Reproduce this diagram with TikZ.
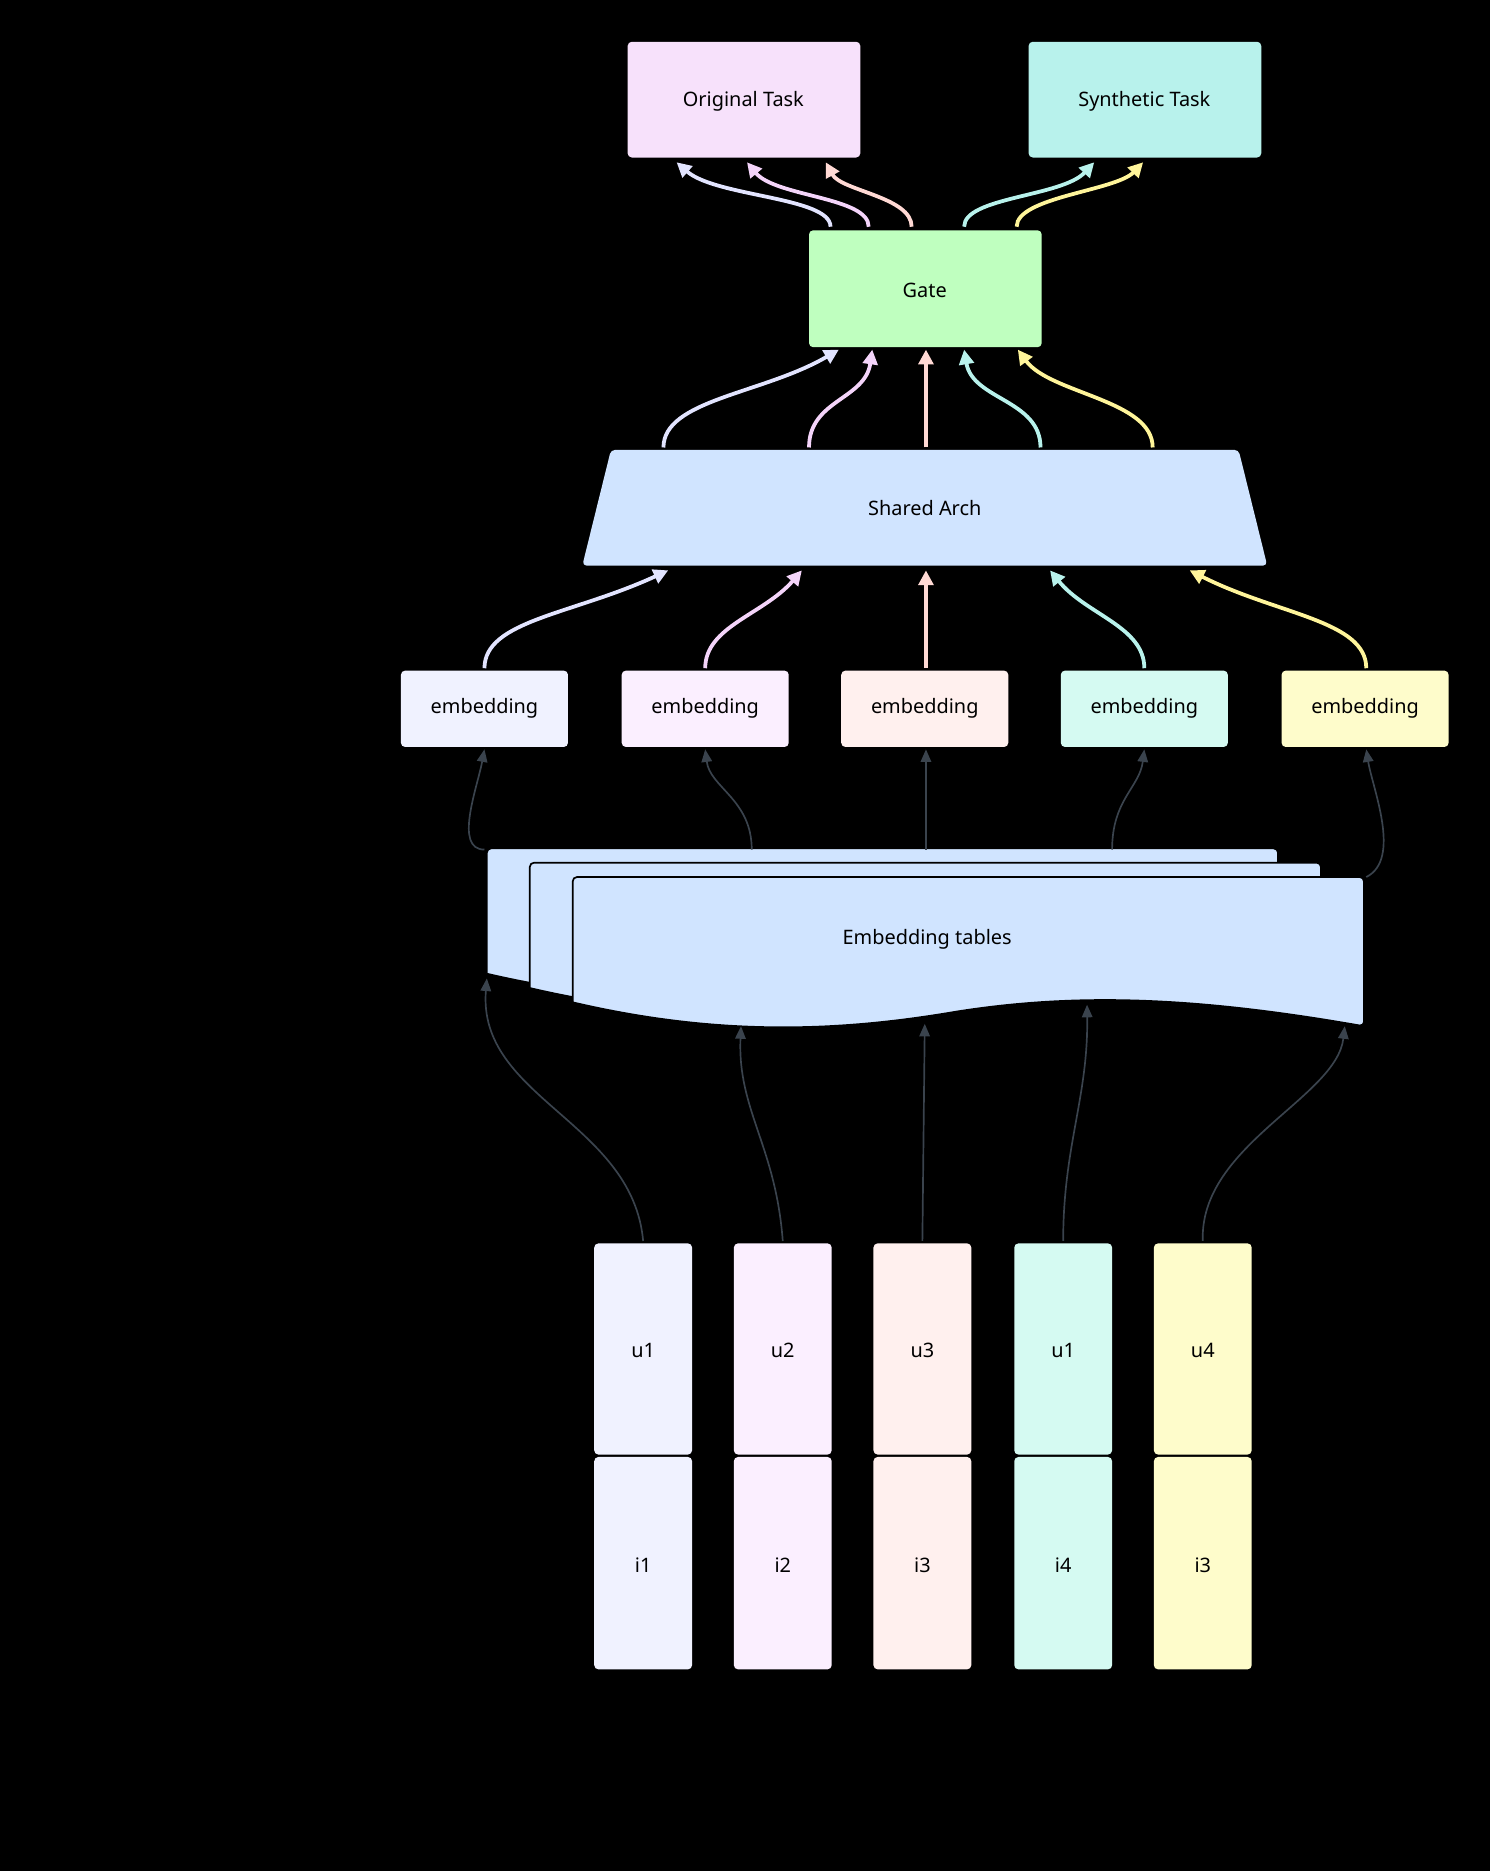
\documentclass[tikz,border=0pt]{standalone}
\usepackage{fontspec}
\setmainfont{Noto Sans}
\usetikzlibrary{arrows.meta}
\definecolor{cLav}{HTML}{E2E4FF}
\definecolor{cPink}{HTML}{F4D4FA}
\definecolor{cSal}{HTML}{FFD9D4}
\definecolor{cCyan}{HTML}{B8F2EC}
\definecolor{cYel}{HTML}{FFF59A}
\definecolor{fLav}{HTML}{F0F2FF}
\definecolor{fPink}{HTML}{FBEFFF}
\definecolor{fSal}{HTML}{FFF0EE}
\definecolor{fCyan}{HTML}{D5FAF2}
\definecolor{fYel}{HTML}{FEFCCB}
\definecolor{arch}{HTML}{D0E4FF}
\definecolor{wire}{HTML}{3A434D}
\begin{document}
\begin{tikzpicture}[x=0.02cm,y=-0.02cm,
  lbl/.style={font=\fontsize{9.5}{11}\selectfont\bfseries},
  box/.style={rounded corners=2pt,draw=none},
  thick arrow/.style={line width=1.8pt,-{Triangle[length=7pt,width=7pt]}},
  thin arrow/.style={line width=0.8pt,draw=wire,-{Triangle[length=6pt,width=5pt]}}]
\fill[black] (0,0) rectangle (1249,1568);
% tasks and gate
\filldraw[box,fill=cPink!70] (526,35) rectangle (721,132);
\node[lbl] (orig) at (623,85) {Original Task};
\filldraw[box,fill=cCyan] (862,35) rectangle (1057,132);
\node[lbl] (synth) at (959,85) {Synthetic Task};
\filldraw[box,fill=green!25!white] (678,193) rectangle (873,291);
\node[lbl] (gate) at (775,243) {Gate};
% shared arch
\fill[arch,rounded corners=2pt] (512,377) -- (1038,377) -- (1062,474) -- (488,474) -- cycle;
\node[lbl] (arch) at (775,426) {Shared Arch};
% embeddings
\foreach \x/\c/\n in {406/fLav/1,591/fPink/2,775/fSal/3,959/fCyan/4,1144/fYel/5}{
  \filldraw[box,fill=\c] (\x-70,562) rectangle (\x+70,626);
  \node[lbl] (emb\n) at (\x,594) {embedding};
}
% embedding tables
\foreach \s in {72,36,0}{
  \filldraw[fill=arch,draw=black,line width=0.8pt,rounded corners=2pt]
    (480-\s,840-\s/3) -- (480-\s,735-\s/3) -- (1143-\s,735-\s/3) -- (1143-\s,860-\s/3)
    [sharp corners] .. controls (1000-\s,835-\s/3) and (900-\s,832-\s/3) .. (800-\s,848-\s/3)
    .. controls (700-\s,865-\s/3) and (600-\s,868-\s/3) .. (480-\s,840-\s/3);
}
\node[lbl] (tables) at (777,787) {Embedding tables};
% inputs
\foreach \x/\c/\u/\i/\n in {539/fLav/u1/i1/1,656/fPink/u2/i2/2,773/fSal/u3/i3/3,891/fCyan/u1/i4/4,1008/fYel/u4/i3/5}{
  \filldraw[box,fill=\c] (\x-41,1042) rectangle (\x+41,1219);
  \node[lbl] (u\n) at (\x,1132) {\u};
  \filldraw[box,fill=\c] (\x-41,1221) rectangle (\x+41,1399);
  \node[lbl] (i\n) at (\x,1312) {\i};
}
% wires
\draw[thin arrow] (539,1040) .. controls (530,940) and (400,920) .. (408,820);
\draw[thin arrow] (656,1040) .. controls (650,960) and (618,930) .. (621,860);
\draw[thin arrow] (773,1040) -- (775,858);
\draw[thin arrow] (891,1040) .. controls (891,960) and (912,920) .. (911,842);
\draw[thin arrow] (1008,1040) .. controls (1005,960) and (1120,920) .. (1127,860);
\draw[thin arrow] (406,712) .. controls (380,712) and (400,660) .. (406,628);
\draw[thin arrow] (630,712) .. controls (630,670) and (595,660) .. (591,628);
\draw[thin arrow] (776,712) -- (776,628);
\draw[thin arrow] (932,712) .. controls (932,670) and (955,660) .. (959,628);
\draw[thin arrow] (1145,735) .. controls (1175,720) and (1150,660) .. (1145,628);
% embeddings to arch
\draw[thick arrow,cLav] (406,560) .. controls (406,520) and (480,515) .. (560,478);
\draw[thick arrow,cPink] (591,560) .. controls (591,525) and (640,515) .. (672,478);
\draw[thick arrow,cSal] (776,560) -- (776,478);
\draw[thick arrow,cCyan] (959,560) .. controls (959,525) and (910,515) .. (880,478);
\draw[thick arrow,cYel] (1145,560) .. controls (1145,520) and (1070,515) .. (997,478);
% arch to gate
\draw[thick arrow,cLav] (556,375) .. controls (556,335) and (640,330) .. (703,293);
\draw[thick arrow,cPink] (678,375) .. controls (678,335) and (725,335) .. (731,293);
\draw[thick arrow,cSal] (776,375) -- (776,293);
\draw[thick arrow,cCyan] (872,375) .. controls (872,335) and (815,335) .. (808,293);
\draw[thick arrow,cYel] (966,375) .. controls (966,335) and (880,330) .. (853,293);
% gate to tasks
\draw[thick arrow,cLav] (696,190) .. controls (696,165) and (600,165) .. (567,136);
\draw[thick arrow,cPink] (728,190) .. controls (728,165) and (650,165) .. (626,136);
\draw[thick arrow,cSal] (764,190) .. controls (764,165) and (705,160) .. (692,136);
\draw[thick arrow,cCyan] (808,190) .. controls (808,165) and (890,165) .. (917,136);
\draw[thick arrow,cYel] (852,190) .. controls (852,165) and (935,160) .. (958,136);
\end{tikzpicture}
\end{document}
